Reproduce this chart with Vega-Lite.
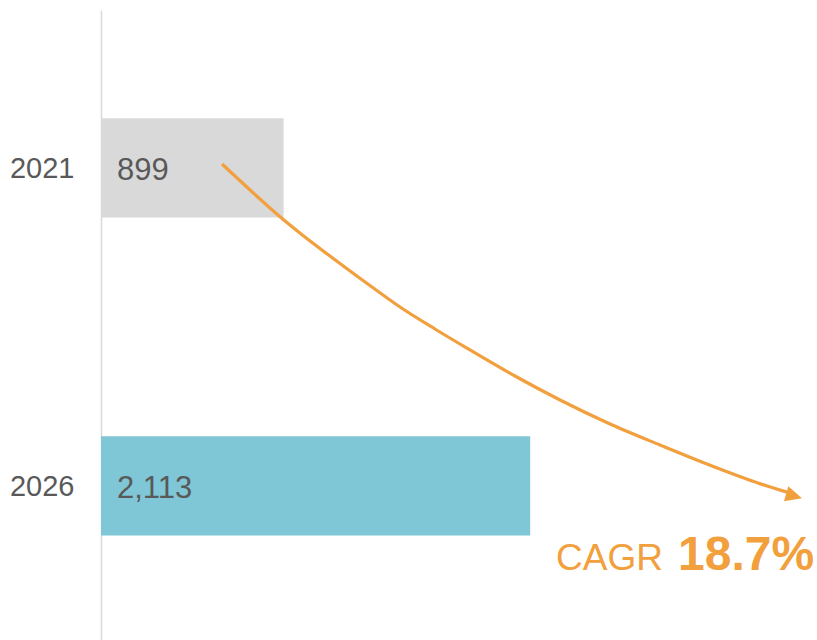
{
  "$schema": "https://vega.github.io/schema/vega-lite/v6.json",
  "width": 716,
  "height": 630,
  "autosize": {"type": "none"},
  "padding": {"left": 101, "top": 10, "right": 0, "bottom": 0},
  "background": "white",
  "config": {"view": {"stroke": null}, "font": "Liberation Sans"},
  "datasets": {
    "bars": [
      {"year": "2021", "value": 899, "label": "899"},
      {"year": "2026", "value": 2113, "label": "2,113"}
    ],
    "curve": [
      {"value": 596, "pos": 2020.940},
      {"value": 734, "pos": 2021.349},
      {"value": 871, "pos": 2021.742},
      {"value": 1004, "pos": 2022.088},
      {"value": 1127, "pos": 2022.387},
      {"value": 1300, "pos": 2022.796},
      {"value": 1472, "pos": 2023.189},
      {"value": 1644, "pos": 2023.535},
      {"value": 1817, "pos": 2023.865},
      {"value": 2038, "pos": 2024.274},
      {"value": 2260, "pos": 2024.651},
      {"value": 2506, "pos": 2025.028},
      {"value": 2752, "pos": 2025.358},
      {"value": 3047, "pos": 2025.736},
      {"value": 3279, "pos": 2026.003},
      {"value": 3392, "pos": 2026.113}
    ],
    "arrow": [{"value": 3412, "pos": 2026.16}],
    "cagr": [{"value": 2240, "pos": 2027.32, "text": "CAGR", "num": "18.7%", "numValue": 2841}]
  },
  "layer": [
    {
      "data": {"name": "bars"},
      "encoding": {
        "y": {
          "field": "year",
          "type": "nominal",
          "scale": {"paddingInner": 0.688, "paddingOuter": 0.3346, "align": 0.509},
          "axis": {
            "title": null,
            "ticks": false,
            "tickSize": 0,
            "labelPadding": 27,
            "labelFontSize": 29,
            "labelColor": "#595959",
            "labelFont": "Liberation Sans",
            "labelBaseline": "alphabetic",
            "labelOffset": 10.5,
            "domainColor": "#D9D9D9",
            "domainWidth": 1.5,
            "grid": false
          }
        }
      },
      "layer": [
        {
          "mark": {"type": "bar"},
          "encoding": {
            "x": {"field": "value", "type": "quantitative", "scale": {"domain": [0, 3525], "nice": false}, "axis": null},
            "color": {"field": "year", "type": "nominal", "scale": {"domain": ["2021", "2026"], "range": ["#D9D9D9", "#7FC6D6"]}, "legend": null}
          }
        },
        {
          "mark": {"type": "text", "align": "left", "baseline": "alphabetic", "dx": 16, "dy": 12, "fontSize": 31, "color": "#595959"},
          "encoding": {
            "x": {"datum": 0, "type": "quantitative"},
            "text": {"field": "label"}
          }
        }
      ]
    },
    {
      "layer": [
        {
          "data": {"name": "curve"},
          "mark": {"type": "line", "interpolate": "monotone", "color": "#F29F3D", "strokeWidth": 3.2},
          "encoding": {
            "x": {"field": "value", "type": "quantitative", "scale": {"domain": [0, 3525], "nice": false}, "axis": null},
            "y": {"field": "pos", "type": "quantitative", "scale": {"domain": [2018.519, 2028.425], "reverse": true, "nice": false, "zero": false}, "axis": null}
          }
        },
        {
          "data": {"name": "arrow"},
          "mark": {"type": "point", "shape": "M-1,-0.95L1,0L-1,0.95Z", "size": 270, "angle": 16, "filled": true, "color": "#F29F3D", "opacity": 1},
          "encoding": {
            "x": {"field": "value", "type": "quantitative"},
            "y": {"field": "pos", "type": "quantitative", "axis": null}
          }
        },
        {
          "data": {"name": "cagr"},
          "mark": {"type": "text", "align": "left", "baseline": "alphabetic", "fontSize": 37, "color": "#F29F3D"},
          "encoding": {
            "x": {"field": "value", "type": "quantitative"},
            "y": {"field": "pos", "type": "quantitative", "axis": null},
            "text": {"field": "text"}
          }
        },
        {
          "data": {"name": "cagr"},
          "mark": {"type": "text", "align": "left", "baseline": "alphabetic", "fontSize": 48, "fontWeight": "bold", "color": "#F29F3D"},
          "encoding": {
            "x": {"field": "numValue", "type": "quantitative"},
            "y": {"field": "pos", "type": "quantitative", "axis": null},
            "text": {"field": "num"}
          }
        }
      ]
    }
  ],
  "resolve": {"scale": {"y": "independent"}}
}
